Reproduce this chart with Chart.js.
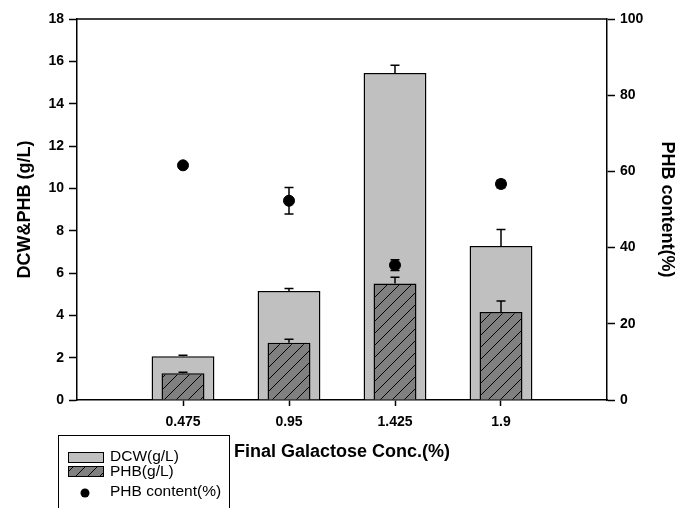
<!DOCTYPE html>
<html>
<head>
<meta charset="utf-8">
<script src="https://cdn.jsdelivr.net/npm/chart.js@4"></script>
<style>
  html, body { margin: 0; padding: 0; background: #fff; }
  #wrap { width: 678px; height: 508px; }
</style>
</head>
<body>
<div id="wrap"><canvas id="myChart" width="678" height="508"></canvas></div>
<script>
// final galactose concentration (%)
const concs = [0.475, 0.95, 1.425, 1.9];
const xLabels = ['0.475', '0.95', '1.425', '1.9'];

const dcw = [2.07, 5.15, 15.45, 7.27];
const dcwErr = [0.05, 0.12, 0.36, 0.78];
const phb = [1.26, 2.70, 5.50, 4.16];
const phbErr = [0.05, 0.17, 0.30, 0.52];
const content = [61.6, 52.3, 35.4, 56.7];
const contentErr = [0.6, 3.5, 1.4, 1.0];

const seriesNames = ['DCW(g/L)', 'PHB(g/L)', 'PHB content(%)'];

const FONT = "'Liberation Sans', Arial, sans-serif";

function hatch() {
  let c = document.createElement('canvas');
  c.width = 12; c.height = 12;
  let g = c.getContext('2d');
  g.fillStyle = '#808080';
  g.fillRect(0, 0, 12, 12);
  g.strokeStyle = '#000';
  g.lineWidth = 1;
  g.beginPath();
  g.moveTo(0, 12); g.lineTo(12, 0);
  g.moveTo(-6, 6); g.lineTo(6, -6);
  g.moveTo(6, 18); g.lineTo(18, 6);
  g.stroke();
  return g.createPattern(c, 'repeat');
}
const hatchFill = hatch();

function pts(vals) {
  return concs.map((x, i) => ({x: x, y: vals[i]}));
}

// error bars, top border and legend
const extras = {
  id: 'extras',
  afterDatasetsDraw(chart) {
    const ctx = chart.ctx;
    const xs = chart.scales.x, y = chart.scales.y, y1 = chart.scales.y1;
    ctx.save();
    ctx.strokeStyle = '#000';
    ctx.lineWidth = 1.5;
    function bar(xv, v, e, sc) {
      let px = xs.getPixelForValue(xv);
      let top = sc.getPixelForValue(v), up = sc.getPixelForValue(v + e);
      ctx.beginPath();
      ctx.moveTo(px, top); ctx.lineTo(px, up);
      ctx.moveTo(px - 4.5, up); ctx.lineTo(px + 4.5, up);
      ctx.stroke();
    }
    concs.forEach((c, i) => {
      bar(c, dcw[i], dcwErr[i], y);
      bar(c, phb[i], phbErr[i], y);
      let px = xs.getPixelForValue(c);
      let up = y1.getPixelForValue(content[i] + contentErr[i]);
      let dn = y1.getPixelForValue(content[i] - contentErr[i]);
      ctx.beginPath();
      ctx.moveTo(px, up); ctx.lineTo(px, dn);
      ctx.moveTo(px - 4.5, up); ctx.lineTo(px + 4.5, up);
      ctx.moveTo(px - 4.5, dn); ctx.lineTo(px + 4.5, dn);
      ctx.stroke();
    });
    ctx.restore();
  },
  afterDraw(chart) {
    const ctx = chart.ctx;
    const a = chart.chartArea;
    ctx.save();
    ctx.strokeStyle = '#000';
    ctx.lineWidth = 1.5;
    ctx.beginPath();
    ctx.moveTo(a.left, a.top); ctx.lineTo(a.right, a.top);
    ctx.stroke();

    // legend box
    ctx.lineWidth = 1;
    ctx.strokeRect(58.5, 435.5, 171, 80);
    ctx.fillStyle = '#c0c0c0';
    ctx.fillRect(68, 452, 35, 10);
    ctx.strokeRect(68.5, 452.5, 35, 10);
    ctx.fillStyle = hatchFill;
    ctx.fillRect(68, 466, 35, 10);
    ctx.strokeRect(68.5, 466.5, 35, 10);
    ctx.fillStyle = '#000';
    ctx.beginPath();
    ctx.arc(85, 493, 4.5, 0, Math.PI * 2);
    ctx.fill();
    ctx.font = '15.5px ' + FONT;
    ctx.textBaseline = 'middle';
    ctx.textAlign = 'left';
    ctx.fillText(seriesNames[0], 110, 457);
    ctx.fillText(seriesNames[1], 110, 472);
    ctx.fillText(seriesNames[2], 110, 492);
    ctx.restore();
  }
};

const tickFont = {family: FONT, size: 14, weight: 'bold'};
const titleFont = {family: FONT, size: 18, weight: 'bold'};

let ctx = document.getElementById('myChart').getContext('2d');
let myChart = new Chart(ctx, {
  type: 'bar',
  data: {
    datasets: [
      {
        type: 'scatter',
        label: seriesNames[2],
        data: pts(content),
        yAxisID: 'y1',
        backgroundColor: '#000',
        borderColor: '#000',
        pointRadius: 5.5,
        pointHoverRadius: 5.5,
        order: 1
      },
      {
        label: seriesNames[1],
        data: pts(phb),
        yAxisID: 'y',
        backgroundColor: hatchFill,
        borderColor: '#000',
        borderWidth: 1.5,
        grouped: false,
        categoryPercentage: 1,
        barPercentage: 0.405,
        order: 2
      },
      {
        label: seriesNames[0],
        data: pts(dcw),
        yAxisID: 'y',
        backgroundColor: '#c0c0c0',
        borderColor: '#000',
        borderWidth: 1.5,
        grouped: false,
        categoryPercentage: 1,
        barPercentage: 0.593,
        order: 3
      }
    ]
  },
  options: {
    responsive: false,
    animation: false,
    layout: { padding: { top: 19, left: 0, right: 0, bottom: 0 } },
    plugins: {
      legend: { display: false },
      tooltip: { enabled: false }
    },
    scales: {
      x: {
        type: 'linear',
        min: 0,
        max: 2.375,
        offset: false,
        afterBuildTicks: function (scale) {
          scale.ticks = concs.map(v => ({value: v}));
        },
        afterFit: function (scale) { scale.height = 108; },
        grid: { display: true, offset: false, drawOnChartArea: false, tickLength: 6, tickColor: '#000', tickWidth: 1.5 },
        border: { display: true, color: '#000', width: 1.5 },
        ticks: {
          color: '#000',
          font: tickFont,
          padding: 8,
          maxRotation: 0,
          autoSkip: false,
          callback: function (v, i) { return xLabels[i]; }
        },
        title: {
          display: true,
          text: 'Final Galactose Conc.(%)',
          color: '#000',
          font: titleFont,
          padding: { top: 0, bottom: 45 }
        }
      },
      y: {
        position: 'left',
        min: 0,
        max: 18,
        afterFit: function (scale) { scale.width = 77; },
        grid: { display: true, drawOnChartArea: false, tickLength: 8, tickColor: '#000', tickWidth: 1.5 },
        border: { display: true, color: '#000', width: 1.5 },
        ticks: { stepSize: 2, color: '#000', font: tickFont, padding: 5 },
        title: {
          display: true,
          text: 'DCW&PHB (g/L)',
          color: '#000',
          font: titleFont,
          padding: { top: 14, bottom: 0 }
        }
      },
      y1: {
        position: 'right',
        min: 0,
        max: 100,
        afterFit: function (scale) { scale.width = 71; },
        grid: { display: true, drawOnChartArea: false, tickLength: 8, tickColor: '#000', tickWidth: 1.5 },
        border: { display: true, color: '#000', width: 1.5 },
        ticks: { stepSize: 20, color: '#000', font: tickFont, padding: 5 },
        title: {
          display: true,
          text: 'PHB content(%)',
          color: '#000',
          font: titleFont,
          padding: { top: 0, bottom: 0 }
        }
      }
    }
  },
  plugins: [extras]
});
</script>
</body>
</html>
